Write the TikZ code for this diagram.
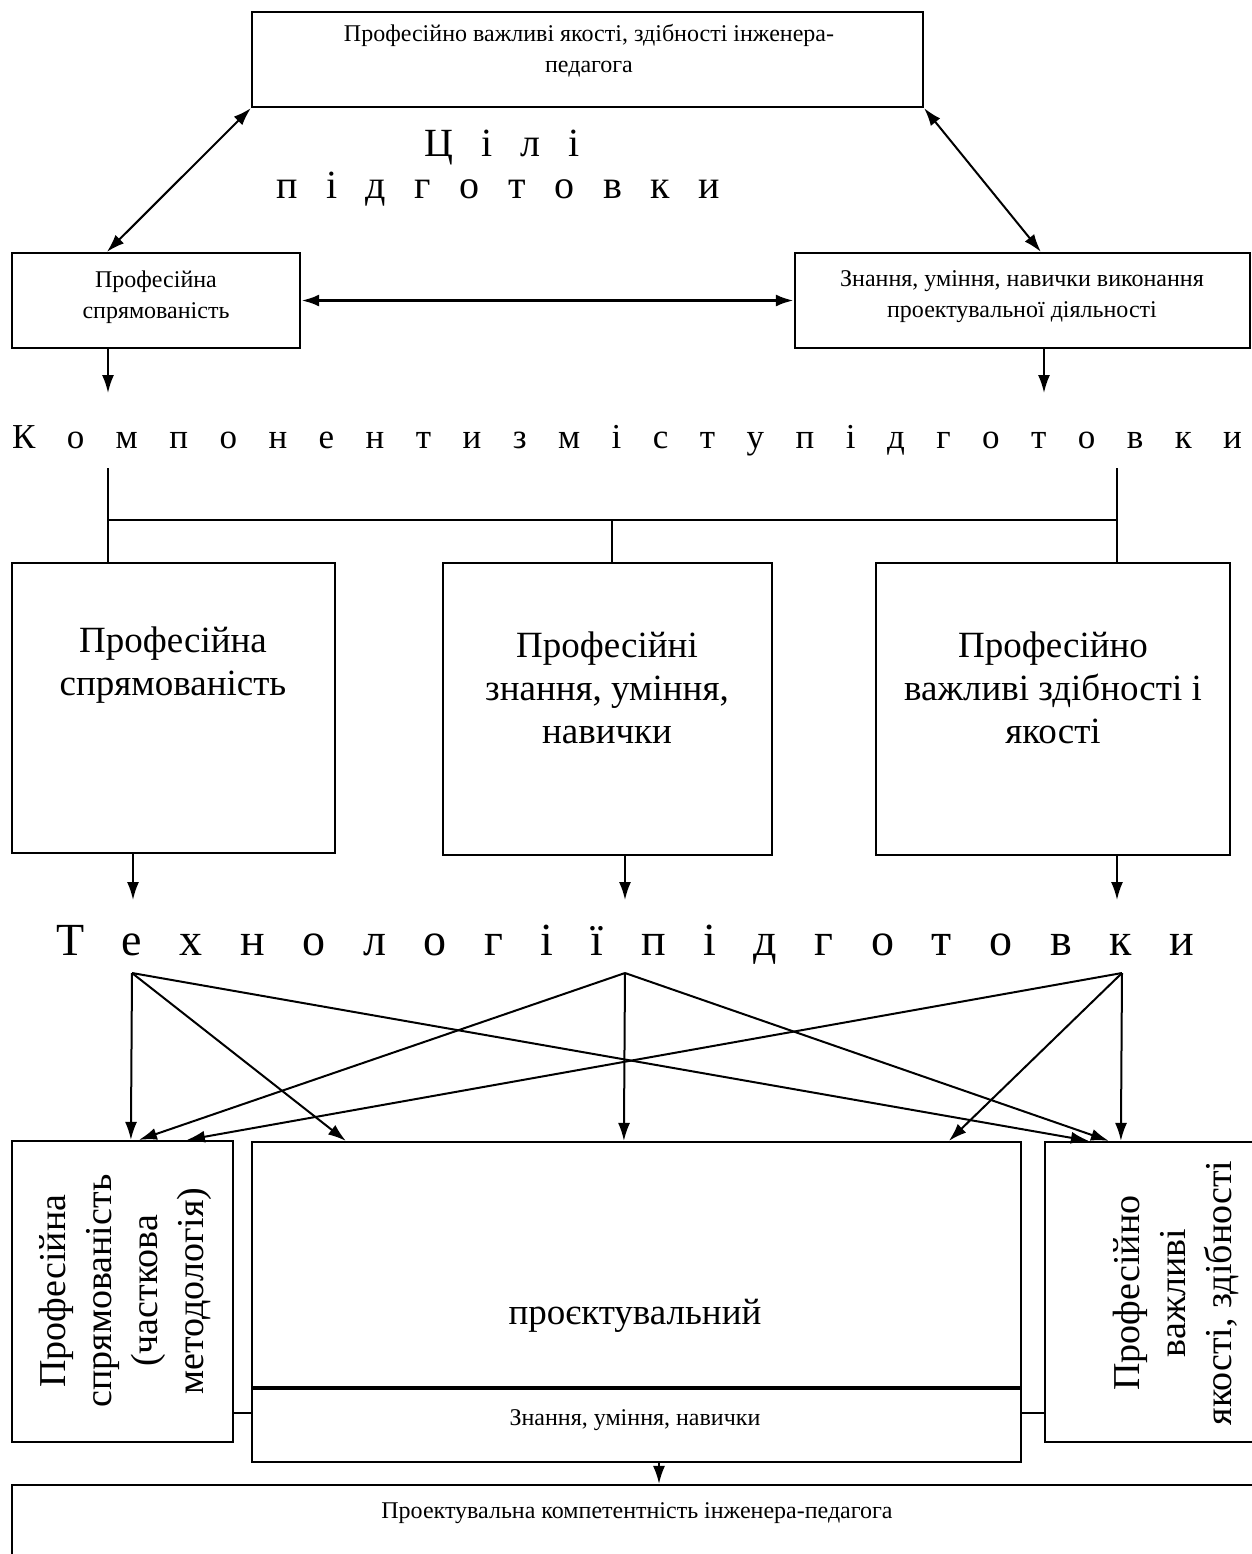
\documentclass[tikz,border=0pt]{standalone}
\usepackage{fontspec}
\setmainfont{Liberation Serif}
\usetikzlibrary{arrows.meta,calc}
\newcommand\pbox[5]{\node[boxst,minimum width={(#4-#2)*0.5pt},minimum height={(#5-#3)*0.5pt}] (#1) at ({(#2+#4)/2},{(#3+#5)/2}) {};}
\begin{document}
\begin{tikzpicture}[x=0.5pt,y=-0.5pt,
  boxst/.style={draw,line width=1.1pt,inner sep=0pt},
  arr/.style={-{Latex[length=9pt,width=6pt]},line width=1pt},
  darr/.style={{Latex[length=9pt,width=6pt]}-{Latex[length=9pt,width=6pt]},line width=1pt},
  thin/.style={line width=0.7pt},
  txt/.style={align=center,inner sep=0pt},
  smallf/.style={font=\fontsize{12}{15.5}\selectfont},
  bigf/.style={font=\fontsize{18.5}{21.5}\selectfont},
  rotf/.style={font=\fontsize{19}{23}\selectfont}]
\useasboundingbox (0,0) rectangle (1252,1554);
\fill[white] (0,0) rectangle (1252,1554);

% top level
\pbox{top}{252}{12}{923}{107}
\node[txt,smallf] (toptxt) at (589,51) {Професійно важливі якості, здібності інженера-\\педагога};
\node[txt,font=\fontsize{20}{24}\selectfont,anchor=base] (goal1) at (502,156) {\makebox[78pt][s]{Ц і л і}};
\node[txt,font=\fontsize{20}{24}\selectfont,anchor=base] (goal2) at (498,198) {\makebox[222pt][s]{п і д г о т о в к и}};

\pbox{gl}{12}{253}{300}{348}
\node[txt,smallf] (gltxt) at (156,297) {Професійна\\спрямованість};
\pbox{gr}{795}{253}{1250}{348}
\node[txt,smallf] (grtxt) at (1022,297) {Знання, уміння, навички виконання\\проектувальної діяльності};

\draw[darr] (top.south west) -- ($(gl.north west)+(96,0)$);
\draw[darr] (top.south east) -- ($(gr.north west)+(247,0)$);
\draw[darr,line width=1.6pt] (gl.east) -- (gr.west);

\coordinate (k1) at (108,393);
\coordinate (k2) at (1044,393);
\draw[arr] (gl.south -| k1) -- (k1);
\draw[arr] (gr.south -| k2) -- (k2);

% components
\node[txt,font=\fontsize{17.5}{20}\selectfont,anchor=base] (komp) at (627,448) {\makebox[615pt][s]{К о м п о н е н т и з м і с т у п і д г о т о в к и}};

\pbox{c1}{12}{563}{335}{853}
\pbox{c2}{443}{563}{772}{855}
\pbox{c3}{876}{563}{1230}{855}
\node[txt,bigf] (c1t) at (173,665) {Професійна\\спрямованість};
\node[txt,bigf] (c2t) at (607,688) {Професійні\\знання, уміння,\\навички};
\node[txt,bigf] (c3t) at (1053,688) {Професійно\\важливі здібності і\\якості};

\coordinate (kl) at (108,468);
\coordinate (kr) at (1117,468);
\coordinate (hl) at (108,520);
\coordinate (hr) at (1117,520);
\coordinate (hm) at (612,520);
\draw[thin] (kl) -- (kl |- c1.north);
\draw[thin] (kr) -- (kr |- c3.north);
\draw[thin] (hl) -- (hr);
\draw[thin] (hm) -- (hm |- c2.north);

\coordinate (t1) at (133,900);
\coordinate (t2) at (625,900);
\coordinate (t3) at (1117,900);
\draw[arr] (c1.south -| t1) -- (t1);
\draw[arr] (c2.south -| t2) -- (t2);
\draw[arr] (c3.south -| t3) -- (t3);

% technologies
\node[txt,font=\fontsize{23}{26}\selectfont,anchor=base] (tech) at (625,955) {\makebox[569pt][s]{Т е х н о л о г і ї п і д г о т о в к и}};

\coordinate (sL) at (132,973);
\coordinate (sM) at (625,973);
\coordinate (sR) at (1122,973);

% bottom boxes
\pbox{bl}{12}{1141}{233}{1442}
\pbox{bc}{252}{1142}{1021}{1389}
\pbox{bk}{252}{1389}{1021}{1462}
\pbox{br}{1045}{1142}{1256}{1442}
\draw[line width=2pt] (bk.north west) -- (bk.north east);

\node[txt,rotf,rotate=90] (blt) at (125,1291) {Професійна\\спрямованість\\(часткова\\методологія)};
\node[txt,rotf,rotate=90] (brt) at (1176,1293) {Професійно\\важливі\\якості, здібності};
\node[txt,bigf] (bct) at (635,1316) {проєктувальний};
\node[txt,smallf] (bkt) at (635,1420) {Знання, уміння, навички};

\draw[arr] (sL) -- ($(bl.north west)+(120,0)$);
\draw[arr] (sL) -- ($(bc.north west)+(95,0)$);
\draw[arr] (sL) -- ($(br.north west)+(45,0)$);
\draw[arr] (sM) -- ($(bl.north west)+(128,0)$);
\draw[arr] (sM) -- ($(bc.north west)+(373,0)$);
\draw[arr] (sM) -- ($(br.north west)+(65,0)$);
\draw[arr] (sR) -- ($(bl.north west)+(176,0)$);
\draw[arr] (sR) -- ($(bc.north west)+(698,0)$);
\draw[arr] (sR) -- ($(br.north west)+(77,0)$);

\coordinate (jy) at (0,1413);
\draw[thin] (bl.east |- jy) -- (bc.west |- jy);
\draw[thin] (bc.east |- jy) -- (br.west |- jy);

\pbox{fin}{12}{1485}{1256}{1560}
\node[txt,smallf] (fint) at (637,1513) {Проектувальна компетентність інженера-педагога};
\coordinate (ax) at (659,0);
\draw[arr] (bk.south -| ax) -- (fin.north -| ax);
\end{tikzpicture}
\end{document}
